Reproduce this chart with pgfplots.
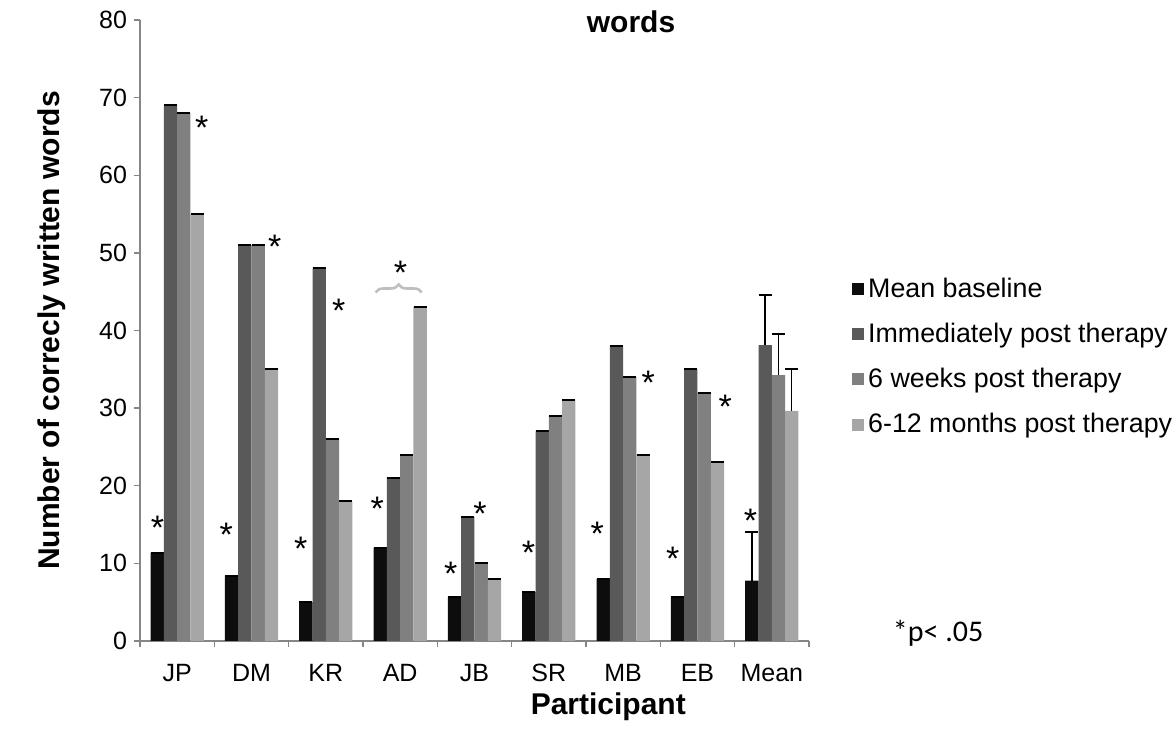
\documentclass[border=0pt]{standalone}
\usepackage{pgfplots}
\pgfplotsset{compat=1.18}
\usepackage{pgfplotstable}
\usepackage{fontspec}
\setmainfont{Liberation Sans}
\newfontfamily\calibri{Carlito}
\usetikzlibrary{decorations.pathreplacing}

\definecolor{cA}{RGB}{13,13,13}
\definecolor{cB}{RGB}{89,89,89}
\definecolor{cC}{RGB}{128,128,128}
\definecolor{cD}{RGB}{166,166,166}
\definecolor{axgray}{RGB}{134,134,134}
\definecolor{brgray}{RGB}{191,191,191}

% columns: x position, value, upper error
\pgfplotstableread{
x y e
0 11.33 0
1 8.33 0
2 5 0
3 12 0
4 5.67 0
5 6.33 0
6 8 0
7 5.67 0
8 7.79 6.3
}\tbase
\pgfplotstableread{
x y e
0 69 0
1 51 0
2 48 0
3 21 0
4 16 0
5 27 0
6 38 0
7 35 0
8 38.13 6.5
}\timm
\pgfplotstableread{
x y e
0 68 0
1 51 0
2 26 0
3 24 0
4 10 0
5 29 0
6 34 0
7 32 0
8 34.25 5.35
}\tsix
\pgfplotstableread{
x y e
0 55 0
1 35 0
2 18 0
3 43 0
4 8 0
5 31 0
6 24 0
7 23 0
8 29.63 5.4
}\tlong

\tikzset{star/.style={font=\fontsize{17}{17}\selectfont, inner sep=0pt, anchor=center, yshift=-3.8pt}}
\pgfplotsset{errstyle/.style={error bars/.cd, y dir=plus, y explicit,
  error bar style={draw=black, line width=0.7pt},
  error mark options={rotate=90, draw=black, line width=1pt, mark size=3.3pt}}}

\begin{document}
\begin{tikzpicture}
\begin{axis}[
  at={(0,0)}, anchor=south west,
  scale only axis, width=334.5pt, height=310.5pt,
  xmin=-0.5, xmax=8.5, ymin=0, ymax=80,
  clip=false,
  ybar=0pt, bar width=0.179,
  axis x line*=bottom, axis y line*=left,
  axis line style={axgray, line width=0.7pt, -},
  xtick={-0.5,0.5,...,8.5}, xticklabels={},
  extra x ticks={0,1,2,3,4,5,6,7,8},
  extra x tick labels={JP,DM,KR,AD,JB,SR,MB,EB,Mean},
  extra x tick style={major tick length=0pt, tick label style={yshift=-8pt}},
  ytick={0,10,...,80},
  tick align=outside, major tick length=3pt,
  tick style={axgray, line width=0.7pt},
  tick label style={font=\fontsize{12.5}{14}\selectfont, black},
  /pgf/number format/assume math mode=true,
  ylabel={Number of correcly written words},
  ylabel style={font=\bfseries\fontsize{15}{18}\selectfont, at={(axis description cs:-0.1315,0.5)}, anchor=center},
  xlabel={Participant},
  xlabel style={font=\bfseries\fontsize{15}{18}\selectfont, at={(axis description cs:0.70,-0.106)}, anchor=center},
  legend cell align=left,
  legend style={at={(axis description cs:1.064,0.592)}, anchor=north west, draw=none, fill=none,
    font=\fontsize{13.4}{15.4}\selectfont, row sep=7.4pt, inner sep=0pt},
  legend image code/.code={\fill[#1] (0pt,-3pt) rectangle (6pt,3pt);},
]
\addplot[fill=cA, draw=none, errstyle] table[x=x, y=y, y error=e]{\tbase};
\addlegendentry{Mean baseline}
\addplot[fill=cB, draw=none, errstyle] table[x=x, y=y, y error=e]{\timm};
\addlegendentry{Immediately post therapy}
\addplot[fill=cC, draw=none, errstyle] table[x=x, y=y, y error=e]{\tsix};
\addlegendentry{6 weeks post therapy}
\addplot[fill=cD, draw=none, errstyle] table[x=x, y=y, y error=e]{\tlong};
\addlegendentry{6-12 months post therapy}

% significance asterisks
\node[star] at (axis cs:-0.266,15.6) {*};
\node[star] at (axis cs:0.33,67.1) {*};
\node[star] at (axis cs:0.66,14.6) {*};
\node[star] at (axis cs:1.314,51.75) {*};
\node[star] at (axis cs:1.664,12.8) {*};
\node[star] at (axis cs:2.175,43.5) {*};
\node[star] at (axis cs:2.692,18.0) {*};
\node[star] at (axis cs:3.005,48.4) {*};
\node[star] at (axis cs:3.68,9.66) {*};
\node[star] at (axis cs:4.074,17.4) {*};
\node[star] at (axis cs:4.725,12.4) {*};
\node[star] at (axis cs:5.652,14.8) {*};
\node[star] at (axis cs:6.339,34.2) {*};
\node[star] at (axis cs:6.668,11.6) {*};
\node[star] at (axis cs:7.372,31.2) {*};
\node[star] at (axis cs:7.712,16.45) {*};
\draw[decorate, decoration={brace, amplitude=4pt}, brgray, line width=1.3pt]
  (axis cs:2.67,44.9) -- (axis cs:3.29,44.9);

% title fragment and note
\node[font=\bfseries\fontsize{15}{18}\selectfont] at (axis description cs:0.734,0.997) {words};
\node[font=\calibri\fontsize{15}{17}\selectfont, anchor=center] at (axis description cs:1.193,0.012) {*p< .05};
\end{axis}
\pgfresetboundingbox
\path[use as bounding box] (-70pt,-56pt) rectangle (517.5pt,320.5pt);
\end{tikzpicture}
\end{document}
